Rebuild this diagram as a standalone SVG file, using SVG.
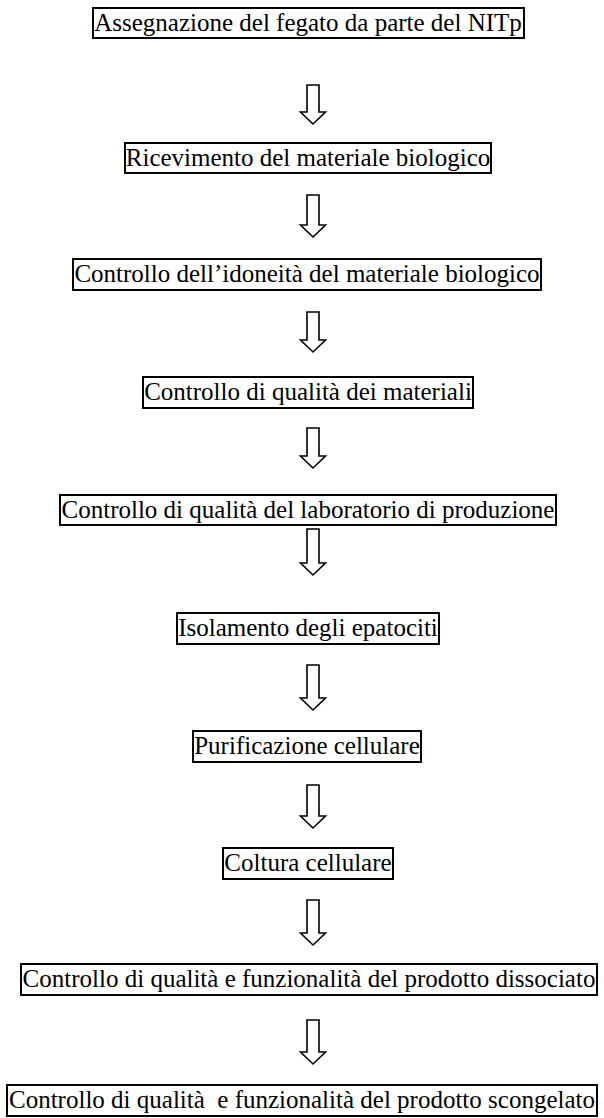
<svg xmlns="http://www.w3.org/2000/svg" width="604" height="1118" viewBox="0 0 604 1118">
<style>
.box{fill:#fff;stroke:#000;stroke-width:2}
.t{font-family:"Liberation Serif","Times New Roman",serif;font-size:25px;fill:#000;text-anchor:middle}
.arr{fill:#fff;stroke:#000;stroke-width:1.6;stroke-linejoin:miter}
</style>
<defs>
<path id="ar" d="M-6,0 V-12 H-12.5 L0,0 L12.5,-12 H6 V-52 H-6 Z"/>
</defs>
<rect width="604" height="1118" fill="#fff"/>
<g id="connectors">
<path class="arr" d="M307,85 V112 H300.5 L313,124 L325.5,112 H319 V85 Z"/>
<path class="arr" d="M307,195 V225 H300.5 L313,237 L325.5,225 H319 V195 Z"/>
<path class="arr" d="M307,312 V340 H300.5 L313,352 L325.5,340 H319 V312 Z"/>
<path class="arr" d="M307,428 V456 H300.5 L313,468 L325.5,456 H319 V428 Z"/>
<path class="arr" d="M307,529 V563 H300.5 L313,575 L325.5,563 H319 V529 Z"/>
<path class="arr" d="M307,665 V698 H300.5 L313,710 L325.5,698 H319 V665 Z"/>
<path class="arr" d="M307,785 V816 H300.5 L313,828 L325.5,816 H319 V785 Z"/>
<path class="arr" d="M307,900 V933 H300.5 L313,945 L325.5,933 H319 V900 Z"/>
<path class="arr" d="M307,1020 V1052 H300.5 L313,1064 L325.5,1052 H319 V1020 Z"/>
</g>
<g id="n1"><rect class="box" x="93" y="8" width="431" height="30"/><text class="t" x="308" y="31">Assegnazione del fegato da parte del NITp</text></g>
<g id="n2"><rect class="box" x="125" y="143" width="366" height="30"/><text class="t" x="308" y="166">Ricevimento del materiale biologico</text></g>
<g id="n3"><rect class="box" x="73" y="259" width="468" height="31"/><text class="t" x="307" y="282">Controllo dell’idoneità del materiale biologico</text></g>
<g id="n4"><rect class="box" x="143" y="377" width="330" height="31"/><text class="t" x="308" y="400">Controllo di qualità dei materiali</text></g>
<g id="n5"><rect class="box" x="60" y="495" width="496" height="30"/><text class="t" x="308" y="518">Controllo di qualità del laboratorio di produzione</text></g>
<g id="n6"><rect class="box" x="177" y="613" width="262" height="31"/><text class="t" x="308" y="636">Isolamento degli epatociti</text></g>
<g id="n7"><rect class="box" x="193" y="731" width="228" height="31"/><text class="t" x="307" y="754">Purificazione cellulare</text></g>
<g id="n8"><rect class="box" x="223" y="848" width="170" height="31"/><text class="t" x="308" y="871">Coltura cellulare</text></g>
<g id="n9"><rect class="box" x="21" y="964" width="576" height="31"/><text class="t" x="309" y="987">Controllo di qualità e funzionalità del prodotto dissociato</text></g>
<g id="n10"><rect class="box" x="7" y="1085" width="590" height="31"/><text class="t" x="302" y="1108" xml:space="preserve">Controllo di qualità  e funzionalità del prodotto scongelato</text></g>
</svg>
